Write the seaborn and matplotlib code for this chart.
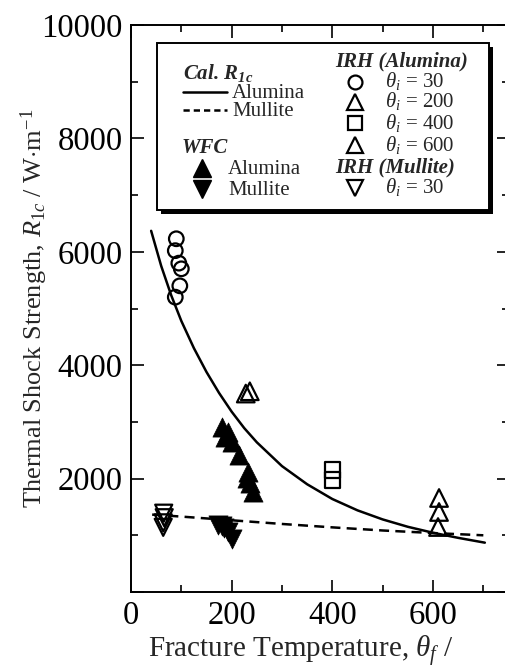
import numpy as np
import pandas as pd
import matplotlib
matplotlib.use("Agg")
import matplotlib.pyplot as plt
import seaborn as sns
from matplotlib.patches import Rectangle

# ---------------- data ----------------
cal_alumina_x = [40, 60, 80, 100, 125, 150, 175, 200, 225, 250, 300, 350, 400,
                 450, 500, 550, 600, 650, 703]
cal_alumina_y = [6370, 5750, 5230, 4780, 4300, 3880, 3510, 3180, 2890, 2640, 2220,
                 1900, 1640, 1440, 1280, 1150, 1045, 955, 870]
cal_mullite_x = [42, 100, 200, 300, 400, 500, 600, 700]
cal_mullite_y = [1365, 1330, 1265, 1200, 1140, 1085, 1040, 1000]

wfc_alumina_x = [181, 193, 187, 201, 215, 232, 230, 236, 242]
wfc_alumina_y = [2910, 2822, 2734, 2645, 2416, 2116, 2011, 1922, 1764]
wfc_mullite_x = [172, 180, 185, 192, 200]
wfc_mullite_y = [1180, 1160, 1120, 1050, 930]

irh_al30_x = [90, 88, 95, 100, 97, 88]
irh_al30_y = [6230, 6020, 5800, 5700, 5400, 5200]
irh_al200_x = [228, 236]
irh_al200_y = [3500, 3540]
irh_al400_x = [401, 401]
irh_al400_y = [2150, 1975]
irh_al600_x = [612, 612, 610]
irh_al600_y = [1658, 1411, 1146]
irh_mu30_x = [65, 66, 64, 64]
irh_mu30_y = [1390, 1310, 1220, 1140]

x_ticks = [0, 200, 400, 600]
y_ticks = [2000, 4000, 6000, 8000, 10000]

# ---------------- style ----------------
sns.set_style("ticks")
plt.rcParams["font.family"] = ["Liberation Serif", "DejaVu Serif"]
plt.rcParams["mathtext.fontset"] = "custom"
plt.rcParams["mathtext.rm"] = "Liberation Serif"
plt.rcParams["mathtext.it"] = "Liberation Serif:italic"
plt.rcParams["mathtext.bf"] = "Liberation Serif:bold"
plt.rcParams["mathtext.bfit"] = "Liberation Serif:bold:italic"

W, H = 506, 668
fig = plt.figure(figsize=(W / 100, H / 100), dpi=100)
ax_left, ax_right, ax_top, ax_bot = 131, 508.5, 25, 592
ax = fig.add_axes([ax_left / W, (H - ax_bot) / H,
                   (ax_right - ax_left) / W, (ax_bot - ax_top) / H])

def df(x, y):
    return pd.DataFrame({"x": x, "y": y})

sns.lineplot(data=df(cal_alumina_x, cal_alumina_y), x="x", y="y", sort=False,
             estimator=None, color="black", lw=1.8, ax=ax)
sns.lineplot(data=df(cal_mullite_x, cal_mullite_y), x="x", y="y", sort=False,
             estimator=None, color="black", lw=1.8, ax=ax)
ax.lines[-1].set_dashes((4, 2.5))

open_kw = dict(facecolor="none", edgecolor="black", linewidth=1.6, ax=ax, zorder=3)
fill_kw = dict(color="black", edgecolor="black", linewidth=0.5, ax=ax, zorder=3)
sns.scatterplot(data=df(wfc_alumina_x, wfc_alumina_y), x="x", y="y", marker="^", s=190, **fill_kw)
sns.scatterplot(data=df(wfc_mullite_x, wfc_mullite_y), x="x", y="y", marker="v", s=190, **fill_kw)
sns.scatterplot(data=df(irh_al30_x, irh_al30_y), x="x", y="y", marker="o", s=110, **open_kw)
sns.scatterplot(data=df(irh_al200_x, irh_al200_y), x="x", y="y", marker="^", s=160, **open_kw)
sns.scatterplot(data=df(irh_al400_x, irh_al400_y), x="x", y="y", marker="s", s=120, **open_kw)
sns.scatterplot(data=df(irh_al600_x, irh_al600_y), x="x", y="y", marker="^", s=160, **open_kw)
sns.scatterplot(data=df(irh_mu30_x, irh_mu30_y), x="x", y="y", marker="v", s=150, **open_kw)

ax.set_xlim(0, 750)
ax.set_ylim(0, 10000)
ax.set_xticks(x_ticks)
ax.set_xticks(np.arange(100, 750, 200), minor=True)
ax.set_yticks([0] + y_ticks)
ax.set_yticklabels([""] + [str(v) for v in y_ticks])
ax.set_yticks(np.arange(1000, 10000, 2000), minor=True)
ax.tick_params(which="both", direction="in", top=True, right=True, width=1.2,
               labelsize=23.5, colors="black")
ax.tick_params(which="major", length=9, pad=6)
ax.tick_params(which="minor", length=5)
for s in ax.spines.values():
    s.set_linewidth(1.4)
    s.set_color("black")

ax.set_xlabel(r"Fracture Temperature, $\theta_f$ /", fontsize=21)
ax.xaxis.set_label_coords(0.45, -0.074)
ax.set_ylabel(r"Thermal Shock Strength, $R_{\mathit{1c}}$ / W$\cdot$m$^{\mathrm{-1}}$",
              fontsize=19)
ax.yaxis.set_label_coords(-0.215, 0.5)

# ---------------- legend box ----------------
def axx(px):
    return (px - ax_left) / (ax_right - ax_left)

def axy(py):
    return (ax_bot - py) / (ax_bot - ax_top)

bx0, bx1, by0, by1 = 157, 489, 43, 210
ax.add_patch(Rectangle((axx(bx0 + 4), axy(by1 + 4)), axx(bx1) - axx(bx0), axy(by0) - axy(by1),
                       transform=ax.transAxes, facecolor="black", edgecolor="black",
                       lw=0, zorder=5, clip_on=False))
ax.add_patch(Rectangle((axx(bx0), axy(by1)), axx(bx1) - axx(bx0), axy(by0) - axy(by1),
                       transform=ax.transAxes, facecolor="white", edgecolor="black",
                       lw=1.4, zorder=6, clip_on=False))

fs = 15
tkw = dict(transform=ax.transAxes, fontsize=fs, va="baseline", ha="left", zorder=8)
hkw = dict(tkw, fontweight="bold", style="italic")
ax.text(axx(183), axy(79), r"Cal. $\mathbfit{R}_{\mathbfit{1c}}$", **hkw)
ax.plot([axx(183), axx(227)], [axy(92)] * 2, color="black", lw=1.8, transform=ax.transAxes, zorder=8)
ax.text(axx(232), axy(97.5), "Alumina", **tkw)
ax.plot([axx(183), axx(227)], [axy(110)] * 2, color="black", lw=1.8, dashes=(2.5, 1.6),
        transform=ax.transAxes, zorder=8)
ax.text(axx(232), axy(116), "Mullite", **tkw)
ax.text(axx(182), axy(153), "WFC", **hkw)
ax.plot(axx(202), axy(168), marker="^", ms=13, color="black", transform=ax.transAxes, zorder=8)
ax.text(axx(228), axy(174), "Alumina", **tkw)
ax.plot(axx(202), axy(189), marker="v", ms=13, color="black", transform=ax.transAxes, zorder=8)
ax.text(axx(228), axy(195), "Mullite", **tkw)

ax.text(axx(335), axy(66), "IRH (Alumina)", **hkw)
okw = dict(color="black", mfc="none", mew=1.6, transform=ax.transAxes, zorder=8)
rows = [(82, "o", 10, "30"), (102, "^", 11, "200"), (123, "s", 10, "400"), (145, "^", 11, "600")]
for yy, mk, ms, lab in rows:
    ax.plot(axx(355), axy(yy), marker=mk, ms=ms, **okw)
    ax.text(axx(385), axy(yy + 5.5), r"$\theta_i$ = " + lab, **tkw)
ax.text(axx(335), axy(172), "IRH (Mullite)", **hkw)
ax.plot(axx(355), axy(188), marker="v", ms=11, **okw)
ax.text(axx(385), axy(193.5), r"$\theta_i$ = 30", **tkw)

fig.savefig("out.png", dpi=100)
